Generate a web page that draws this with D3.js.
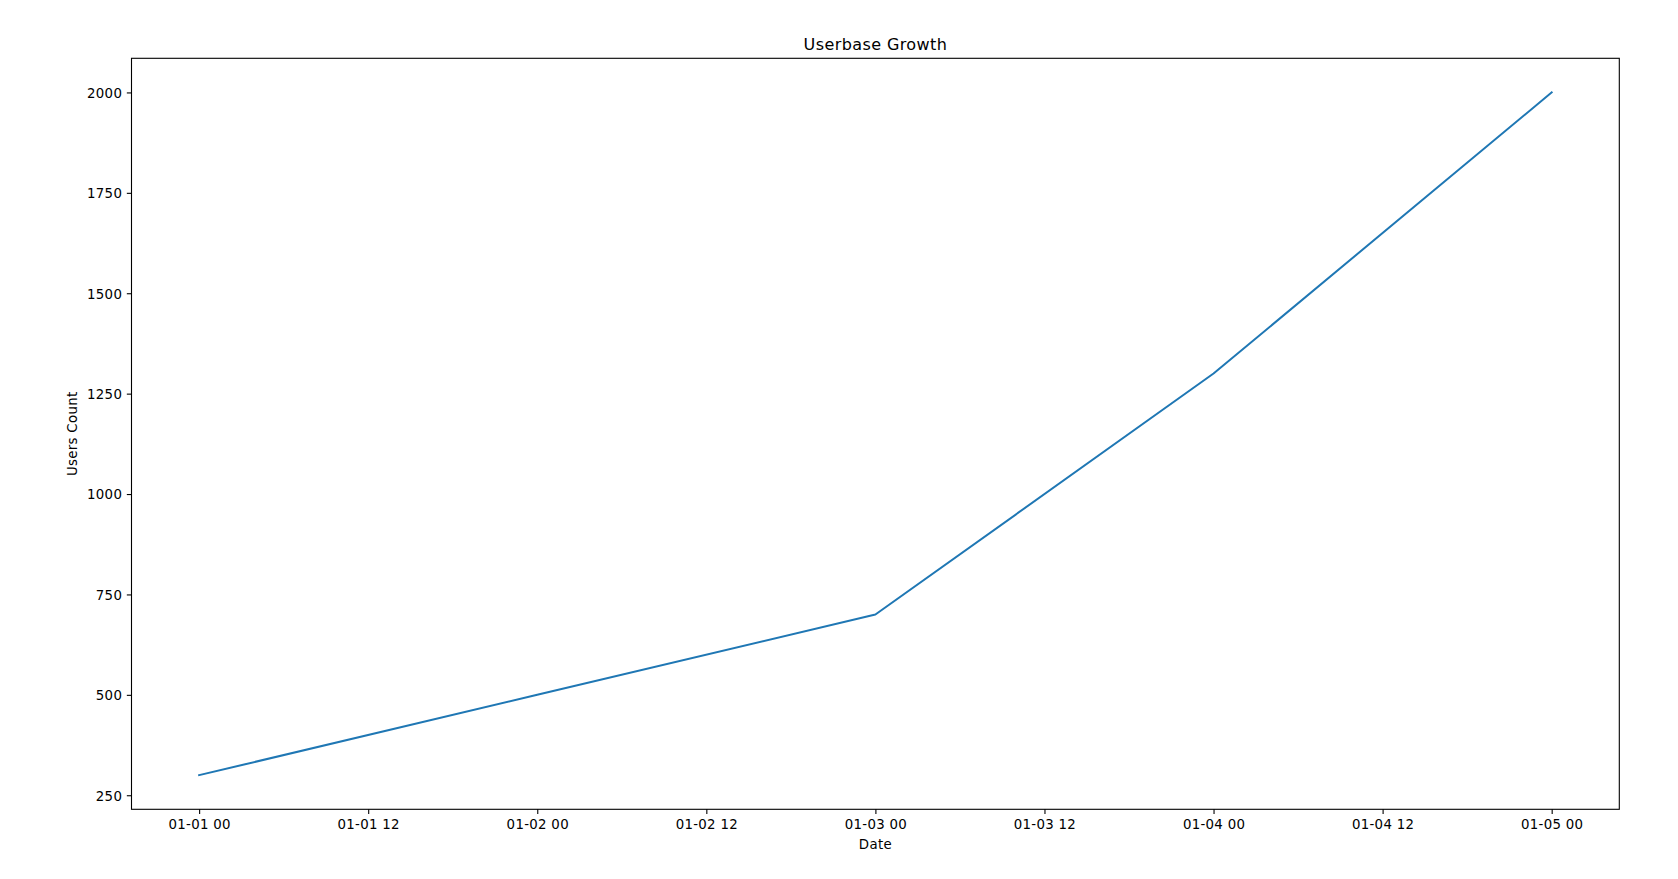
<!DOCTYPE html>
<html>
<head>
<meta charset="utf-8">
<script src="https://cdn.jsdelivr.net/npm/d3@7"></script>
<style>
  html, body { margin: 0; padding: 0; background: #fff; }
  svg { display: block; }
  text { font-family: "DejaVu Sans", sans-serif; fill: #000; }
</style>
</head>
<body>
<svg id="chart" width="1678" height="879"></svg>
<script>
const dates = ["2023-01-01T00:00", "2023-01-02T00:00", "2023-01-03T00:00", "2023-01-04T00:00", "2023-01-05T00:00"];
const users = [300, 500, 700, 1300, 2000];
const yTicks = [250, 500, 750, 1000, 1250, 1500, 1750, 2000];
const xTickLabels = ["01-01 00", "01-01 12", "01-02 00", "01-02 12", "01-03 00", "01-03 12", "01-04 00", "01-04 12", "01-05 00"];
const title = "Userbase Growth";
const xLabel = "Date";
const yLabel = "Users Count";

(function () {
const parse = d3.timeParse("%Y-%m-%dT%H:%M");
const data = dates.map((d, i) => ({ date: parse(d), value: users[i] }));

const mLeft = 131.5, mRight = 1619.3, mTop = 58.3, mBottom = 809.3;
const svg = d3.select("#chart");

const t0 = data[0].date, t1 = data[data.length - 1].date;
const span = t1 - t0;
const x = d3.scaleTime()
  .domain([new Date(+t0 - span * 0.05), new Date(+t1 + span * 0.05)])
  .range([mLeft, mRight]);
const vmin = d3.min(users), vmax = d3.max(users);
const vpad = (vmax - vmin) * 0.05;
const y = d3.scaleLinear().domain([vmin - vpad, vmax + vpad]).range([mBottom, mTop]);

const xTickDates = xTickLabels.map((_, i) => new Date(+t0 + i * 12 * 3600 * 1000));

// line
const line = d3.line().x(d => x(d.date)).y(d => y(d.value));
svg.append("path").datum(data)
  .attr("d", line)
  .attr("fill", "none")
  .attr("stroke", "#1f77b4")
  .attr("stroke-width", 2)
  .attr("stroke-linejoin", "round")
  .attr("stroke-linecap", "square");

// axes
const xAxis = d3.axisBottom(x).tickValues(xTickDates)
  .tickFormat((d, i) => xTickLabels[i]).tickSizeOuter(0).tickSize(4.67).tickPadding(4.67);
const gx = svg.append("g").attr("transform", `translate(0,${mBottom})`).call(xAxis);
gx.select(".domain").remove();
gx.selectAll("line").attr("stroke", "#000").attr("stroke-width", 1.1);
gx.selectAll("text").attr("font-size", 13.33).attr("font-family", "DejaVu Sans, sans-serif")
  .attr("letter-spacing", 0.3).attr("y", 19.7).attr("dy", null);

const yAxis = d3.axisLeft(y).tickValues(yTicks).tickFormat(d3.format("d"))
  .tickSizeOuter(0).tickSize(4.67).tickPadding(4.67);
const gy = svg.append("g").attr("transform", `translate(${mLeft},0)`).call(yAxis);
gy.select(".domain").remove();
gy.selectAll("line").attr("stroke", "#000").attr("stroke-width", 1.1);
gy.selectAll("text").attr("font-size", 13.33).attr("font-family", "DejaVu Sans, sans-serif")
  .attr("letter-spacing", 0.3).attr("dy", "0.36em");

// frame
svg.append("rect").attr("x", mLeft).attr("y", mTop)
  .attr("width", mRight - mLeft).attr("height", mBottom - mTop)
  .attr("fill", "none").attr("stroke", "#000").attr("stroke-width", 1.1);

// title & labels
svg.append("text").attr("x", (mLeft + mRight) / 2).attr("y", 50.3)
  .attr("text-anchor", "middle").attr("font-size", 16).attr("letter-spacing", 0.4).text(title);
svg.append("text").attr("x", (mLeft + mRight) / 2).attr("y", 848.5)
  .attr("text-anchor", "middle").attr("font-size", 13.33).attr("letter-spacing", 0.3).text(xLabel);
svg.append("text").attr("transform", `translate(76.5,${(mTop + mBottom) / 2}) rotate(-90)`)
  .attr("text-anchor", "middle").attr("font-size", 13.33).attr("letter-spacing", 0.3).text(yLabel);
})();
</script>
</body>
</html>
